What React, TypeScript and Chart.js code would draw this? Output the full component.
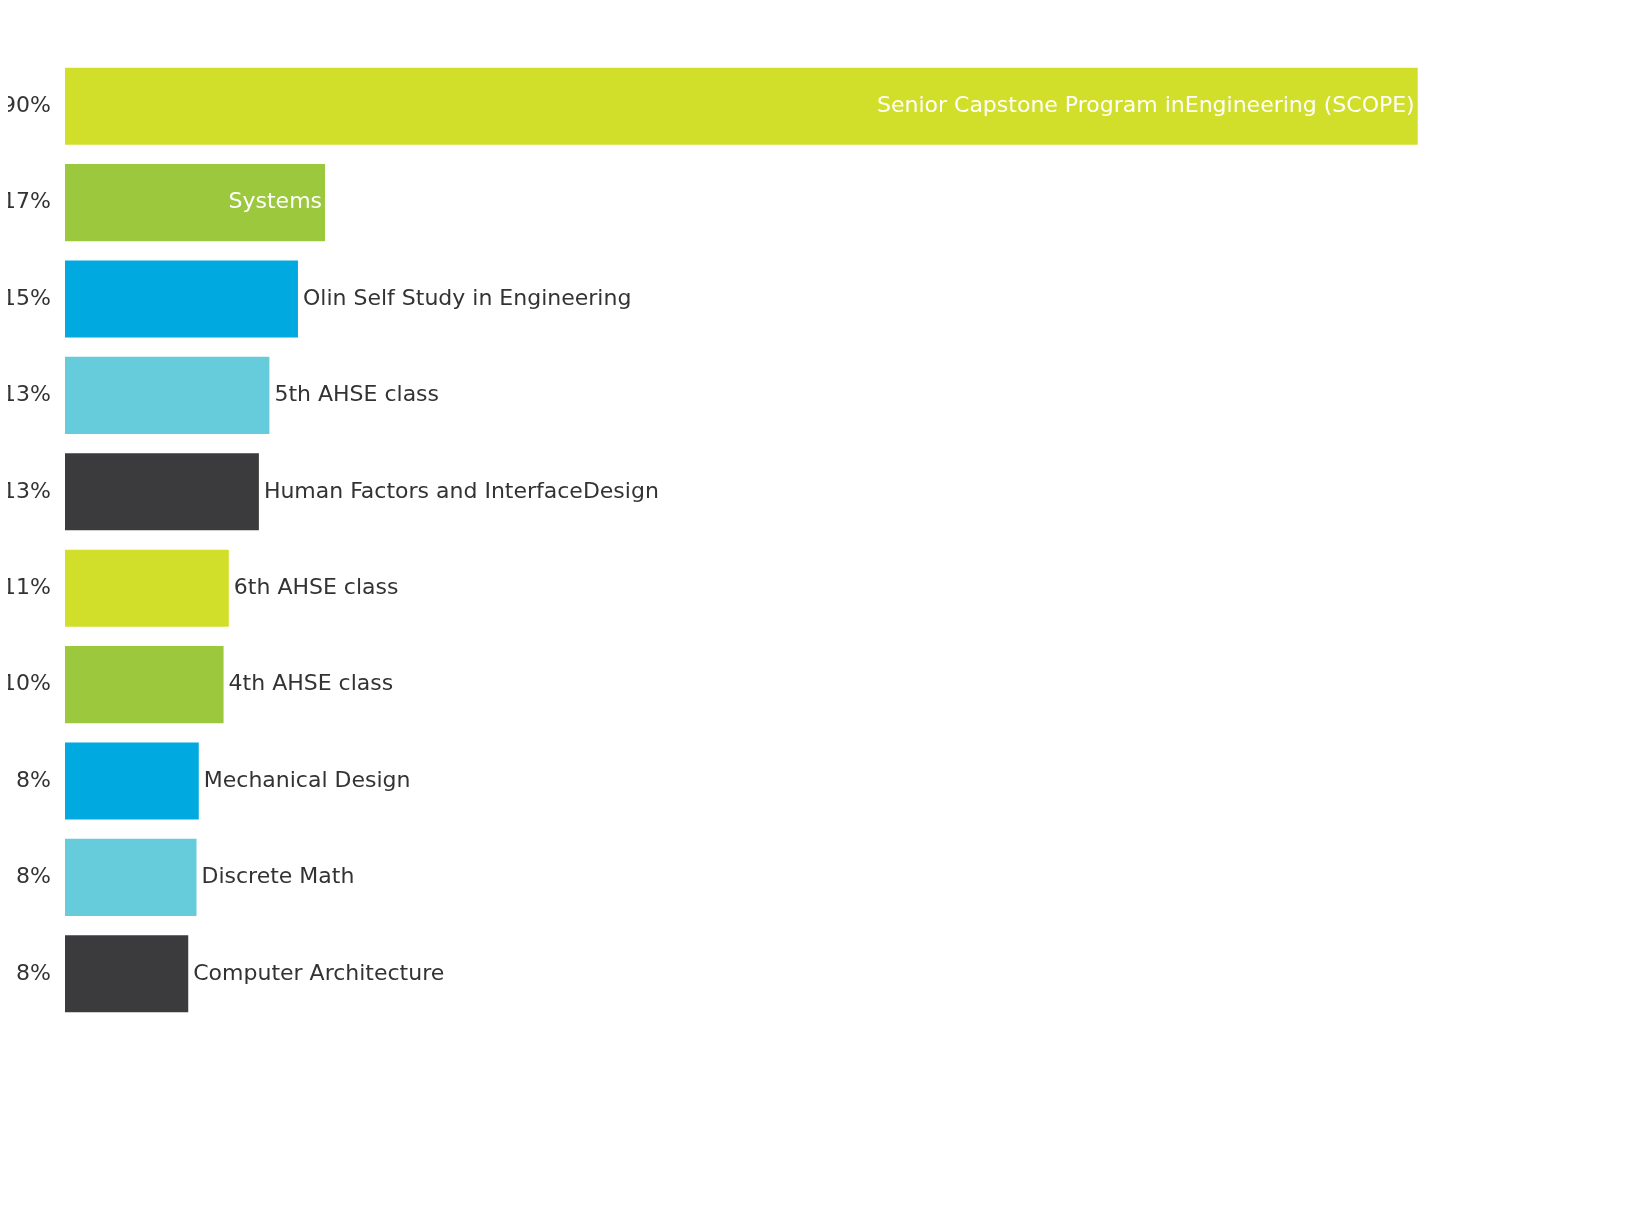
import Chart from 'chart.js/auto';
import { useEffect, useRef } from 'react';

const courses = [
	'Senior Capstone Program inEngineering (SCOPE)',
	'Systems',
	'Olin Self Study in Engineering',
	'5th AHSE class',
	'Human Factors and InterfaceDesign',
	'6th AHSE class',
	'4th AHSE class',
	'Mechanical Design',
	'Discrete Math',
	'Computer Architecture',
];
const shares = [90, 17.3, 15.5, 13.6, 12.9, 10.9, 10.55, 8.9, 8.75, 8.2];
const tickLabels = ['90%', '17%', '15%', '13%', '13%', '11%', '10%', '8%', '8%', '8%'];
const colors = ['#d2df2a', '#9bc83d', '#00aae0', '#66ccdb', '#3b3b3d', '#d2df2a', '#9bc83d', '#00aae0', '#66ccdb', '#3b3b3d'];
const insideLabel = [true, true, false, false, false, false, false, false, false, false];

const FONT = "'DejaVu Sans', sans-serif";

const barLabels = {
	id: 'barLabels',
	afterDatasetsDraw(chart: Chart) {
		const ctx = chart.ctx;
		const meta = chart.getDatasetMeta(0);
		ctx.save();
		ctx.font = `22px ${FONT}`;
		ctx.textBaseline = 'middle';
		meta.data.forEach((bar: any, i: number) => {
			if (insideLabel[i]) {
				ctx.fillStyle = '#ffffff';
				ctx.textAlign = 'right';
				ctx.fillText(courses[i], bar.x - 3, bar.y);
			} else {
				ctx.fillStyle = '#333333';
				ctx.textAlign = 'left';
				ctx.fillText(courses[i], bar.x + 5, bar.y);
			}
		});
		ctx.restore();
	},
};

export default function App() {
	const chartRef = useRef<HTMLCanvasElement>(null);

	useEffect(() => {
		if (!chartRef.current) return;
		const chart = new Chart(chartRef.current, {
			type: 'bar',
			data: {
				labels: tickLabels,
				datasets: [
					{
						data: shares,
						backgroundColor: colors,
						barPercentage: 1,
						categoryPercentage: 0.8,
					},
				],
			},
			options: {
				indexAxis: 'y',
				animation: false,
				responsive: true,
				maintainAspectRatio: false,
				layout: { padding: { top: 50, bottom: 190, right: 50, left: 0 } },
				plugins: { legend: { display: false }, tooltip: { enabled: false } },
				scales: {
					x: { min: 0, max: 100, display: false },
					y: {
						grid: { display: false },
						border: { display: false },
						ticks: { color: '#333333', font: { family: FONT, size: 22 }, padding: 6 },
						afterFit: (axis: any) => {
							axis.width = 57;
						},
					},
				},
			},
			plugins: [barLabels],
		});
		return () => chart.destroy();
	}, []);

	return (
		<div style={{ width: 1610, height: 1204 }}>
			<canvas ref={chartRef}></canvas>
		</div>
	);
}
